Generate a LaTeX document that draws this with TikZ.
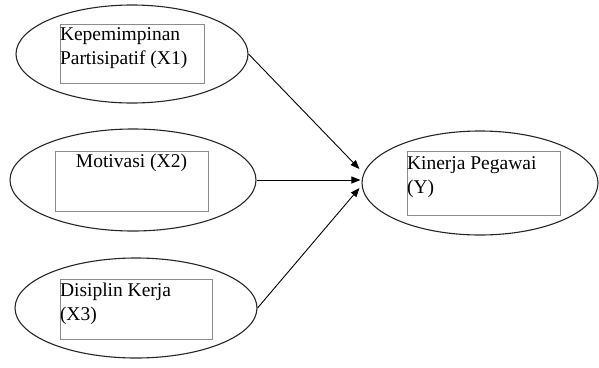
\documentclass[tikz,border=0pt]{standalone}
\usepackage{fontspec}
\setmainfont{Liberation Serif}
\usetikzlibrary{shapes.geometric,arrows.meta}

\begin{document}
\begin{tikzpicture}[x=1pt,y=-1pt,
    varellipse/.style={draw=black!85,line width=1.1pt,ellipse,inner sep=0pt},
    varbox/.style={draw=black!45,line width=0.8pt,inner sep=0pt,font=\fontsize{19.5}{23.5}\selectfont},
    arr/.style={-{Triangle[length=9pt,width=7pt]},line width=0.9pt}]
      \useasboundingbox (0,0) rectangle (599,367);
      \node[varellipse,minimum width=232pt,minimum height=98pt] (X1) at (132,54) {};
      \node[varellipse,minimum width=246pt,minimum height=102pt] (X2) at (133,180) {};
      \node[varellipse,minimum width=242pt,minimum height=100pt] (X3) at (136,308) {};
      \node[varellipse,minimum width=236pt,minimum height=104pt] (Y) at (480,183) {};
      \node[varbox] (X1box) at (132,53.5) {\parbox[c][59pt][t]{144pt}{\raggedright\vspace{4pt}Kepemimpinan\\Partisipatif (X1)}};
      \node[varbox] (X2box) at (131.5,181) {\parbox[c][60pt][t]{153pt}{\centering\vspace{3pt}Motivasi (X2)}};
      \node[varbox] (X3box) at (136,309) {\parbox[c][60pt][t]{152pt}{\raggedright\vspace{4pt}Disiplin Kerja\\(X3)}};
      \node[varbox] (Ybox) at (483.5,183) {\parbox[c][64pt][t]{153pt}{\raggedright\vspace{6pt}Kinerja Pegawai\\(Y)}};
      \draw[arr] (X1.east) -- ([yshift=14pt,xshift=-2pt]Y.west);
      \draw[arr] (X2.east) -- ([yshift=3pt,xshift=-1pt]Y.west);
      \draw[arr] (X3.east) -- ([yshift=-5pt,xshift=-2pt]Y.west);
    \end{tikzpicture}
\end{document}
